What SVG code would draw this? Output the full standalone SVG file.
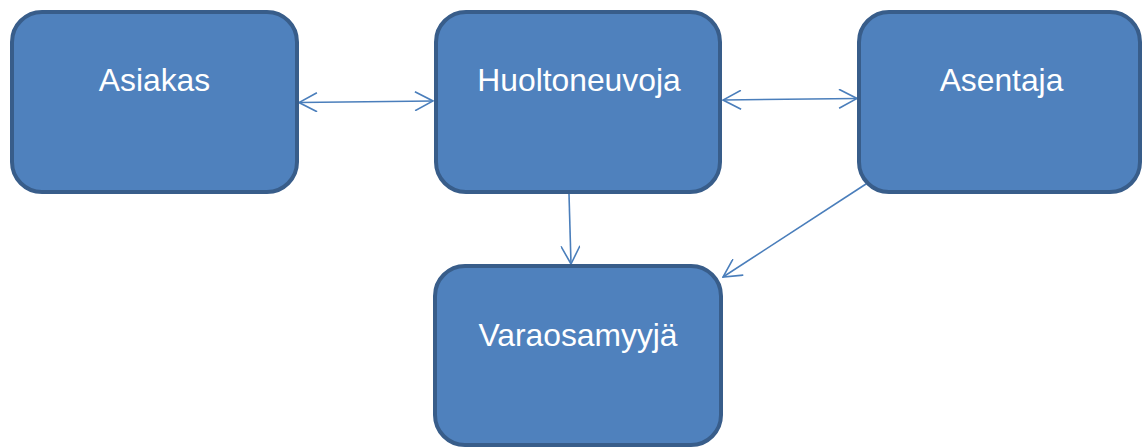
<svg xmlns="http://www.w3.org/2000/svg" width="1143" height="447" viewBox="0 0 1143 447">
<defs>
<style>
.box{fill:#4F81BD;stroke:#385D8A;stroke-width:4}
.lbl{font-family:"Liberation Sans",Arial,sans-serif;font-size:31.8px;fill:#FFFFFF;text-anchor:middle}
.con{stroke:#4A7EBB;stroke-width:1.6;fill:none}
</style>
<marker id="ah" viewBox="0 0 20 20" refX="19" refY="10" markerWidth="20" markerHeight="20" markerUnits="userSpaceOnUse" orient="auto-start-reverse">
<path d="M1,0.5 L19,10 L1,19.5" fill="none" stroke="#4A7EBB" stroke-width="1.6"/>
</marker>
</defs>
<rect width="1143" height="447" fill="#FFFFFF"/>
<g id="connectors">
<line class="con" x1="299" y1="102.5" x2="433" y2="101" marker-start="url(#ah)" marker-end="url(#ah)"/>
<line class="con" x1="723" y1="100" x2="857" y2="98.5" marker-start="url(#ah)" marker-end="url(#ah)"/>
<line class="con" x1="569" y1="194" x2="571" y2="264" marker-end="url(#ah)"/>
<line class="con" x1="866" y1="184" x2="723" y2="277" marker-end="url(#ah)"/>
</g>
<g id="asiakas">
<rect class="box" x="12" y="12" width="285" height="180" rx="30" ry="30"/>
<text class="lbl" x="154.5" y="91">Asiakas</text>
</g>
<g id="huoltoneuvoja">
<rect class="box" x="436" y="12" width="284" height="180" rx="30" ry="30"/>
<text class="lbl" x="579" y="91">Huoltoneuvoja</text>
</g>
<g id="asentaja">
<rect class="box" x="859" y="12" width="281" height="180" rx="30" ry="30"/>
<text class="lbl" x="1001.5" y="91">Asentaja</text>
</g>
<g id="varaosamyyja">
<rect class="box" x="435" y="266" width="286" height="179" rx="30" ry="30"/>
<text class="lbl" x="578" y="346">Varaosamyyjä</text>
</g>
</svg>
